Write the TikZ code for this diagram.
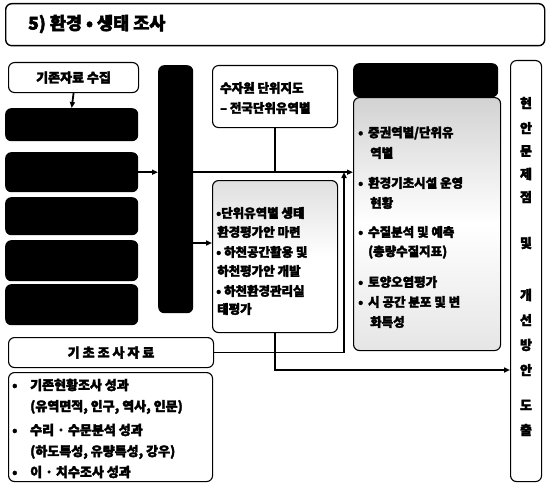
\documentclass[tikz,border=0pt]{standalone}
\usepackage{fontspec}
\setmainfont{Noto Sans CJK KR}[BoldFeatures={FakeBold=2.6}]
\usetikzlibrary{arrows.meta}
\newcommand\kbul{\makebox[10pt][l]{•}}
\begin{document}
\begin{tikzpicture}[x=1pt,y=-1pt,
  box/.style={draw, line width=1.1pt, rounded corners=6pt, fill=white, anchor=north west, inner sep=0pt},
  blk/.style={fill=black, rounded corners=6pt, anchor=north west, inner sep=0pt},
  conn/.style={line width=1.8pt},
  arr/.style={conn, -{Triangle[length=6pt,width=5pt]}},
  t/.style={font=\bfseries\fontsize{12.5}{14}\selectfont, inner sep=0pt, anchor=west},
  lt/.style={font=\bfseries\fontsize{13}{14}\selectfont, inner sep=0pt, anchor=west},
  vt/.style={font=\bfseries\fontsize{13}{14}\selectfont, inner sep=0pt}]
\useasboundingbox (0,0) rectangle (546,487);
% title
\node[box, minimum width=539pt, minimum height=42pt, line width=1.4pt] (title) at (5,3) {};
\node[anchor=west, inner sep=0pt, font=\bfseries\fontsize{17.5}{19}\selectfont] (tt) at (28,24) {5) 환경 • 생태 조사};
% left column
\node[box, minimum width=130pt, minimum height=30pt, font=\bfseries\fontsize{13}{14}\selectfont] (src) at (8,62) {기존자료 수집};
\node[blk, minimum width=133pt, minimum height=33pt] (b1) at (5,108) {};
\node[blk, minimum width=133pt, minimum height=40pt] (b2) at (5,152) {};
\node[blk, minimum width=133pt, minimum height=38pt] (b3) at (5,197) {};
\node[blk, minimum width=133pt, minimum height=41pt] (b4) at (5,240) {};
\node[blk, minimum width=133pt, minimum height=41pt] (b5) at (5,284) {};
\node[blk, minimum width=35pt, minimum height=248pt] (bar) at (158,65) {};
% middle
\node[box, minimum width=125pt, minimum height=62pt] (sw) at (212,65) {};
\node[t] (sw1) at (220,88) {수자원 단위지도};
\node[t] (sw2) at (220,108) {– 전국단위유역별};
\node[box, minimum width=125pt, minimum height=152pt, top color=gray!25, bottom color=white, middle color=white] (mid) at (212,180) {};
\node[t] (m1) at (216,213) {•단위유역별 생태};
\node[t] (m2) at (217,232) {환경평가안 마련};
\node[t] (m3) at (216,252) {• 하천공간활용 및};
\node[t] (m4) at (217,271) {하천평가안 개발};
\node[t] (m5) at (216,291) {• 하천환경관리실};
\node[t] (m6) at (217,309) {태평가};
% right
\node[box, minimum width=147pt, minimum height=253pt, top color=gray!35, bottom color=gray!20, middle color=white] (rb) at (353,97) {};
\node[blk, minimum width=145pt, minimum height=34pt] (rh) at (353,63) {};
\node[t] (r1) at (358,133) {\kbul 중권역별/단위유};
\node[t] (r2) at (370,153) {역별};
\node[t] (r3) at (358,183) {\kbul 환경기초시설 운영};
\node[t] (r4) at (370,203) {현황};
\node[t] (r5) at (358,232) {\kbul 수질분석 및 예측};
\node[t] (r6) at (368,252) {(총량수질지표)};
\node[t] (r7) at (358,282) {\kbul 토양오염평가};
\node[t] (r8) at (358,302) {\kbul 시 공간 분포 및 변};
\node[t] (r9) at (370,322) {화특성};
% bottom left
\node[box, minimum width=205pt, minimum height=30pt, font=\bfseries\fontsize{13}{14}\selectfont] (base) at (8,337) {기 초 조 사 자 료};
\node[box, minimum width=204pt, minimum height=109pt] (list) at (8,372) {};
\node[lt] (l1) at (12,385) {\makebox[18pt][l]{•}기존현황조사 성과};
\node[lt] (l2) at (30,407) {(유역면적, 인구, 역사, 인문)};
\node[lt] (l3) at (12,430) {\makebox[18pt][l]{•}수리 · 수문분석 성과};
\node[lt] (l4) at (30,452) {(하도특성, 유량특성, 강우)};
\node[lt] (l5) at (12,472) {\makebox[18pt][l]{•}이 · 치수조사 성과};
% output column
\node[box, minimum width=31pt, minimum height=421pt] (out) at (510,60) {};
\foreach \c/\y [count=\i] in {현/103,안/128,문/151,제/174,점/197,및/243,개/295,선/320,방/345,안/370,도/405,출/430}
  \node[vt] (v\i) at (526,\y) {\c};
% connectors
\coordinate (j1) at (344,172);
\draw[arr] (src.south) -- (b1.north);
\draw[arr] (b2.east) -- (bar.west|-b2.east);
\draw[conn] (sw.south) -- (sw.south|-b2.east);
\draw[arr] (bar.east|-b2.east) -- (rb.west|-b2.east);
\draw[arr] (bar.east|-0,243) -- (mid.west|-0,243);
\draw[arr] (base.east) -| (j1);
\draw[arr] (mid.south) |- (out.west|-0,370);
\end{tikzpicture}
\end{document}
